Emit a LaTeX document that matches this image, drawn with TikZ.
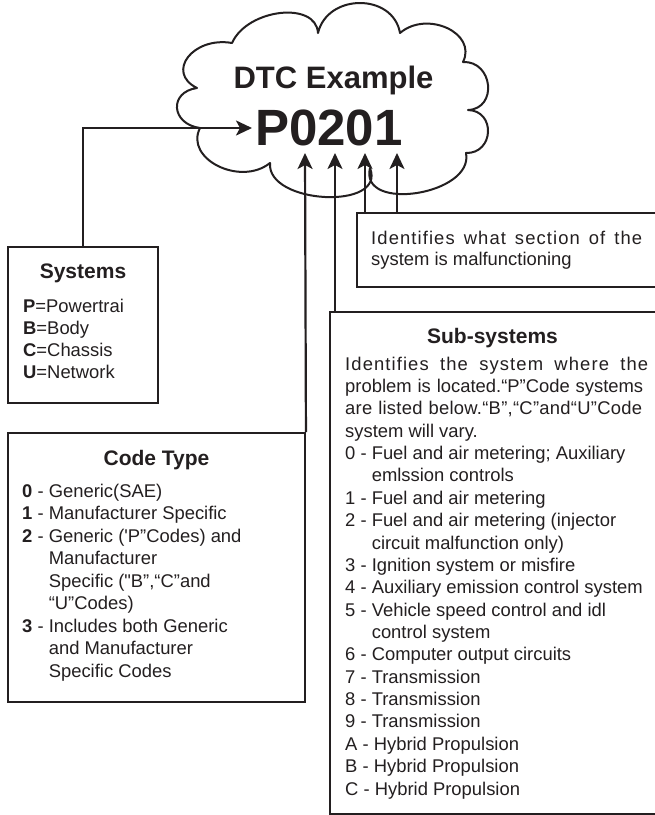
\documentclass[tikz,border=0pt]{standalone}
\usepackage{fontspec}
\setmainfont{Liberation Sans}[Ligatures=TeXOff]
\usetikzlibrary{arrows.meta}
\definecolor{ink}{RGB}{35,31,32}
\newcommand\mytext[4]{\node[txt] (#1) at (#2,#3) {#4};}
\begin{document}
\begin{tikzpicture}[x=1pt,y=-1pt,
  txt/.style={anchor=base west,inner sep=0pt,text=ink,font=\fontsize{18.4}{22}\selectfont},
  ttl/.style={anchor=base,inner sep=0pt,text=ink,font=\fontsize{21}{25}\selectfont\bfseries},
  box/.style={draw=ink,line width=1.9pt,rectangle,inner sep=0pt},
  conn/.style={draw=ink,line width=2.2pt,-{Stealth[length=16pt,width=15pt,inset=4pt]}},
  cloudline/.style={draw=ink,line width=2pt,line join=round}]
\useasboundingbox (0,0) rectangle (655,815);
\clip (0,0) rectangle (655,815);
\fill[white] (0,0) rectangle (655,815);

% cloud
\draw[cloudline] (197,88) .. controls (165.2,72.2) and (193.2,36.2) .. (232,43)
 .. controls (247.3,8.7) and (316.1,0.7) .. (318,33)
 .. controls (327.5,-7) and (393.1,-7) .. (400,33)
 .. controls (427,9.9) and (477.4,33.1) .. (463,62)
 .. controls (493,60.7) and (498,108.7) .. (468,110)
 .. controls (496,110.7) and (494,153.7) .. (466,153)
 .. controls (474.3,194.8) and (359.1,212.8) .. (370,168)
 .. controls (386.7,210.5) and (266.7,204.5) .. (270,163)
 .. controls (240.3,186.8) and (184.3,158.8) .. (200,128)
 .. controls (171,124) and (168.6,92) .. (197,88) -- cycle;
\node[anchor=base,inner sep=0pt,text=ink,font=\fontsize{31}{34}\selectfont\bfseries] (dtc) at (333.5,88) {DTC Example};
\node[anchor=base west,inner sep=0pt,text=ink,font=\fontsize{51}{55}\selectfont\bfseries] (code) at (255,145) {P0201};

% boxes
\node[box,minimum width=150pt,minimum height=156pt] (systems) at (83,325) {};
\node[box,minimum width=297pt,minimum height=269pt] (codetype) at (156.5,567.5) {};
\node[box,minimum width=323pt,minimum height=74pt] (ident) at (518.5,250) {};
\node[box,minimum width=350pt,minimum height=502pt] (subsys) at (505,563) {};

% arrow tips
\coordinate (tipP) at (252,128);
\coordinate (tip0) at (305,153);
\coordinate (tip2) at (335,153);
\coordinate (tip3) at (365,153);
\coordinate (tip4) at (397,153);

\draw[conn] (systems.north) |- (tipP);
\draw[conn] (codetype.north east) -- (tip0);
\draw[conn] (tip2 |- subsys.north) -- (tip2);
\draw[conn] (tip3 |- ident.north) -- (tip3);
\draw[conn] (tip4 |- ident.north) -- (tip4);

% Systems
\node[ttl] (systitle) at (83,278) {Systems};
\mytext{s1}{23}{312}{\textbf{P}=Powertrai}
\mytext{s2}{23}{334}{\textbf{B}=Body}
\mytext{s3}{23}{356}{\textbf{C}=Chassis}
\mytext{s4}{23}{378}{\textbf{U}=Network}

% Code Type
\node[ttl] (cttitle) at (156.5,465) {Code Type};
\mytext{c1}{22}{497}{\textbf{0} - Generic(SAE)}
\mytext{c2}{22}{519.5}{\textbf{1} - Manufacturer Specific}
\mytext{c3}{22}{542}{\textbf{2} - Generic ('P”Codes) and}
\mytext{c4}{48.6}{564.5}{Manufacturer}
\mytext{c5}{48.6}{587}{Specific ("B”,“C”and}
\mytext{c6}{48.6}{609.5}{“U”Codes)}
\mytext{c7}{22}{632}{\textbf{3} - Includes both Generic}
\mytext{c8}{48.6}{654.5}{and Manufacturer}
\mytext{c9}{48.6}{677}{Specific Codes}

% Identifies
\mytext{i1}{371}{244}{\makebox[271pt][s]{\addfontfeature{LetterSpace=6}Identifies what section of the}}
\mytext{i2}{371}{265.5}{system is malfunctioning}

% Sub-systems
\node[ttl] (sstitle) at (492.5,343) {Sub-systems};
\mytext{u0}{345}{370}{\makebox[303pt][s]{\addfontfeature{LetterSpace=6}Identifies the system where the}}
\mytext{u1}{345}{392.4}{\makebox[298pt][s]{problem is located.“P”Code systems}}
\mytext{u2}{345}{414.7}{\makebox[297pt][s]{\addfontfeature{LetterSpace=1.5}are listed below.“B”,“C”and“U”Code}}
\mytext{u3}{345}{437.1}{system will vary.}
\mytext{u4}{345}{459.5}{0 - Fuel and air metering; Auxiliary}
\mytext{u5}{371.6}{481.9}{emlssion controls}
\mytext{u6}{345}{504.2}{1 - Fuel and air metering}
\mytext{u7}{345}{526.6}{2 - Fuel and air metering (injector}
\mytext{u8}{371.6}{549}{circuit malfunction only)}
\mytext{u9}{345}{571.3}{3 - Ignition system or misfire}
\mytext{u10}{345}{593.7}{4 - Auxiliary emission control system}
\mytext{u11}{345}{616.1}{5 - Vehicle speed control and idl}
\mytext{u12}{371.6}{638.4}{control system}
\mytext{u13}{345}{660.8}{6 - Computer output circuits}
\mytext{u14}{345}{683.2}{7 - Transmission}
\mytext{u15}{345}{705.6}{8 - Transmission}
\mytext{u16}{345}{727.9}{9 - Transmission}
\mytext{u17}{345}{750.3}{A - Hybrid Propulsion}
\mytext{u18}{345}{772.7}{B - Hybrid Propulsion}
\mytext{u19}{345}{795}{C - Hybrid Propulsion}
\end{tikzpicture}
\end{document}
